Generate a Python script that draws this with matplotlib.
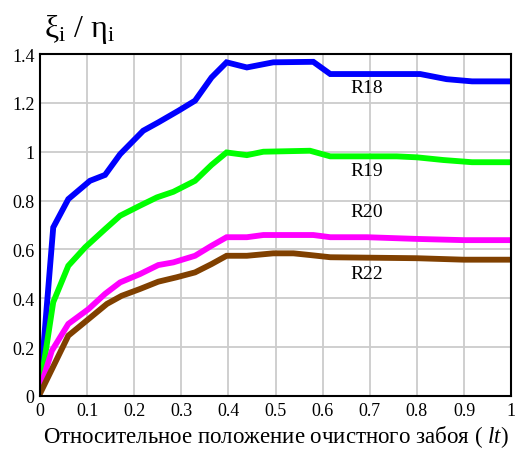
import numpy as np
import matplotlib
matplotlib.use('Agg')
import matplotlib.pyplot as plt

plt.rcParams['font.family'] = ['Liberation Serif', 'DejaVu Serif']
plt.rcParams['mathtext.fontset'] = 'custom'
plt.rcParams['mathtext.rm'] = 'Liberation Serif'
plt.rcParams['mathtext.it'] = 'Liberation Serif:italic'

# Кривые
x18 = [0, 0.028, 0.06, 0.106, 0.138, 0.17, 0.219, 0.251, 0.294, 0.329, 0.364, 0.396,
       0.439, 0.495, 0.58, 0.616, 0.807, 0.863, 0.917, 1.0]
y18 = [0.03, 0.69, 0.806, 0.881, 0.905, 0.99, 1.086, 1.12, 1.168, 1.209, 1.304, 1.366,
       1.345, 1.366, 1.368, 1.318, 1.318, 1.297, 1.288, 1.288]

x19 = [0, 0.028, 0.06, 0.096, 0.138, 0.17, 0.212, 0.248, 0.283, 0.329, 0.364, 0.396,
       0.439, 0.474, 0.573, 0.616, 0.757, 0.8, 0.856, 0.917, 1.0]
y19 = [0.03, 0.384, 0.533, 0.609, 0.683, 0.738, 0.779, 0.813, 0.836, 0.881, 0.946, 0.997,
       0.986, 1.0, 1.004, 0.981, 0.981, 0.977, 0.966, 0.957, 0.957]

x20 = [0, 0.025, 0.06, 0.103, 0.138, 0.17, 0.212, 0.251, 0.283, 0.329, 0.364, 0.396,
       0.439, 0.474, 0.58, 0.616, 0.694, 0.8, 0.899, 1.0]
y20 = [0.03, 0.185, 0.295, 0.356, 0.418, 0.465, 0.499, 0.536, 0.547, 0.574, 0.615, 0.65,
       0.65, 0.659, 0.659, 0.65, 0.65, 0.643, 0.638, 0.638]

x22 = [0, 0.06, 0.103, 0.142, 0.173, 0.212, 0.251, 0.29, 0.329, 0.364, 0.396,
       0.439, 0.495, 0.538, 0.573, 0.616, 0.8, 0.899, 1.0]
y22 = [0.01, 0.247, 0.315, 0.377, 0.41, 0.438, 0.468, 0.486, 0.506, 0.54, 0.574,
       0.574, 0.584, 0.584, 0.577, 0.568, 0.564, 0.558, 0.558]

labels = ['R18', 'R19', 'R20', 'R22']
label_y = [1.263, 0.922, 0.754, 0.5]
colors = ['#0000ff', '#00ff00', '#ff00ff', '#804000']

fig = plt.figure(figsize=(5.2, 4.52), dpi=100)
ax = fig.add_axes([0.077, 0.1217, 0.906, 0.7566])

for xs, ys, c in zip([x18, x19, x20, x22], [y18, y19, y20, y22], colors):
    ax.plot(xs, ys, color=c, linewidth=4.2, solid_joinstyle='miter')

for lab, ly in zip(labels, label_y):
    ax.text(0.694, ly, lab, fontsize=14, ha='center', va='center')

ax.set_xlim(0, 1)
ax.set_ylim(0, 1.4)
ax.set_xticks(np.arange(0, 1.01, 0.1))
ax.set_xticklabels(['0', '0.1', '0.2', '0.3', '0.4', '0.5', '0.6', '0.7', '0.8', '0.9', '1'])
ax.set_yticks(np.arange(0, 1.41, 0.2))
ax.set_yticklabels(['0', '0.2', '0.4', '0.6', '0.8', '1', '1.2', '1.4'])
ax.tick_params(length=0, labelsize=13, pad=4)
ax.grid(color='#cccccc', linewidth=1.3)
ax.set_axisbelow(True)
for s in ax.spines.values():
    s.set_linewidth(1.5)

ax.set_xlabel('Относительное положение очистного забоя ( $\\mathit{lt}$)', fontsize=16.5, labelpad=3)
fig.text(0.085, 0.935, '$\\mathrm{\\xi}_\\mathrm{i}$ / $\\mathrm{\\eta}_\\mathrm{i}$',
         fontsize=23, ha='left', va='center')

fig.savefig('out.png', dpi=100)
